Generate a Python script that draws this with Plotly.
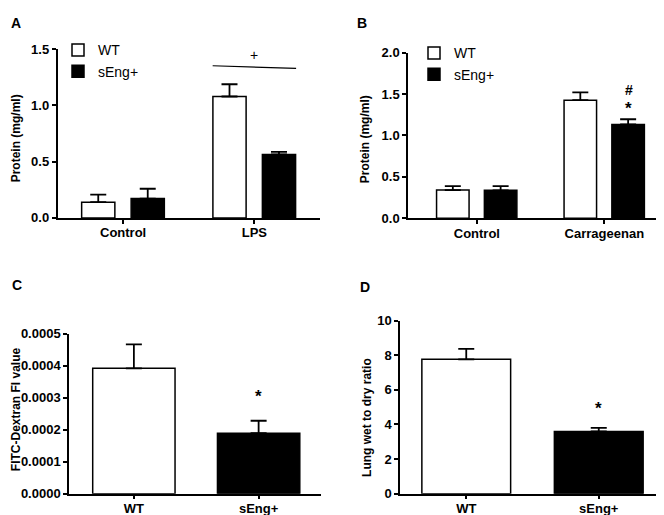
import plotly.graph_objects as go

W, H = 664, 515

# ---- data ----
a_cats = ["Control", "LPS"]
a_wt = [0.14, 1.078]
a_wt_err = [0.067, 0.109]
a_seng = [0.172, 0.563]
a_seng_err = [0.087, 0.023]

b_cats = ["Control", "Carrageenan"]
b_wt = [0.34, 1.425]
b_wt_err = [0.047, 0.094]
b_seng = [0.337, 1.132]
b_seng_err = [0.05, 0.063]

c_cats = ["WT", "sEng+"]
c_vals = [0.000392, 0.000189]
c_err = [0.000075, 0.000039]

d_cats = ["WT", "sEng+"]
d_vals = [7.76, 3.59]
d_err = [0.60, 0.21]

FONT = "Liberation Sans, Arial, sans-serif"


def px_x(p):
    return p / W


def px_y(p):
    return 1 - p / H


fig = go.Figure()

edge = dict(color="black", width=1.5)


def err(arr):
    return dict(type="data", symmetric=False, array=arr, arrayminus=[0] * len(arr),
                color="black", thickness=1.8, width=8)


# Panel A
fig.add_trace(go.Bar(x=a_cats, y=a_wt, name="WT", marker=dict(color="white", line=edge),
                     width=0.253, offset=-0.316, error_y=err(a_wt_err),
                     xaxis="x", yaxis="y", legend="legend"))
fig.add_trace(go.Bar(x=a_cats, y=a_seng, name="sEng+", marker=dict(color="black", line=edge),
                     width=0.253, offset=0.061, error_y=err(a_seng_err),
                     xaxis="x", yaxis="y", legend="legend"))
# Panel B
fig.add_trace(go.Bar(x=b_cats, y=b_wt, name="WT", marker=dict(color="white", line=edge),
                     width=0.255, offset=-0.316, error_y=err(b_wt_err),
                     xaxis="x2", yaxis="y2", legend="legend2"))
fig.add_trace(go.Bar(x=b_cats, y=b_seng, name="sEng+", marker=dict(color="black", line=edge),
                     width=0.255, offset=0.059, error_y=err(b_seng_err),
                     xaxis="x2", yaxis="y2", legend="legend2"))
# Panel C
fig.add_trace(go.Bar(x=c_cats, y=c_vals, marker=dict(color=["white", "black"], line=edge),
                     width=0.66, offset=-0.33, error_y=err(c_err),
                     xaxis="x3", yaxis="y3", showlegend=False))
# Panel D
fig.add_trace(go.Bar(x=d_cats, y=d_vals, marker=dict(color=["white", "black"], line=edge),
                     width=0.67, offset=-0.335, error_y=err(d_err),
                     xaxis="x4", yaxis="y4", showlegend=False))

tickfont = dict(family=FONT, size=13, color="black", weight="bold")


def xax(dom, rng, anchor):
    return dict(domain=dom, range=rng, anchor=anchor, showline=True, linecolor="black",
                linewidth=1.5, ticks="outside", ticklen=4, tickwidth=1.5, tickcolor="black",
                showgrid=False, zeroline=False, tickfont=tickfont, ticklabelstandoff=-2)


def yax(dom, rng, dtick, anchor, fmt=None):
    d = dict(domain=dom, range=rng, dtick=dtick, tick0=0, anchor=anchor, showline=True,
             linecolor="black", linewidth=1.5, ticks="outside", ticklen=4, tickwidth=1.5,
             tickcolor="black", showgrid=False, zeroline=False, tickfont=tickfont)
    if fmt:
        d["tickformat"] = fmt
    return d


fig.update_layout(
    width=W, height=H, margin=dict(l=0, r=0, t=0, b=0),
    paper_bgcolor="white", plot_bgcolor="white",
    font=dict(family=FONT, color="black"),
    barmode="overlay",
    xaxis=xax([px_x(49.5), px_x(312)], [-0.5, 1.5], "y"),
    yaxis=yax([px_y(209), px_y(35)], [0, 1.5], 0.5, "x", ".1f"),
    xaxis2=xax([px_x(400), px_x(655)], [-0.54, 1.46], "y2"),
    yaxis2=yax([px_y(209.3), px_y(38.7)], [0, 2.0], 0.5, "x2", ".1f"),
    xaxis3=xax([px_x(61), px_x(313)], [-0.52, 1.5], "y3"),
    yaxis3=yax([px_y(493), px_y(328.3)], [0, 0.0005], 0.0001, "x3", ".4f"),
    xaxis4=xax([px_x(392), px_x(657)], [-0.5, 1.5], "y4"),
    yaxis4=yax([px_y(493), px_y(314.7)], [0, 10], 2, "x4", "d"),
    legend=dict(x=px_x(50), y=px_y(20), xanchor="left", yanchor="top",
                font=dict(family=FONT, size=14, color="black"), bgcolor="rgba(0,0,0,0)",
                tracegroupgap=0),
    legend2=dict(x=px_x(406), y=px_y(23), xanchor="left", yanchor="top",
                 font=dict(family=FONT, size=14, color="black"), bgcolor="rgba(0,0,0,0)",
                 tracegroupgap=0),
)

ann = []
# panel letters
for txt, x, y in [("A", 8, 8), ("B", 354, 8), ("C", 8.5, 278), ("D", 357, 280)]:
    ann.append(dict(text=txt, x=px_x(x), y=px_y(y), xref="paper", yref="paper",
                    xanchor="center", yanchor="middle", showarrow=False,
                    font=dict(family=FONT, size=14, weight="bold", color="black")))
# axis titles
for txt, x, y in [("Protein (mg/ml)", 8, 127), ("Protein (mg/ml)", 357, 128),
                  ("FITC-Dextran FI value", 8, 406), ("Lung wet to dry ratio", 359, 414)]:
    ann.append(dict(text=txt, x=px_x(x), y=px_y(y), xref="paper", yref="paper",
                    xanchor="center", yanchor="middle",
                    textangle=-90, showarrow=False,
                    font=dict(family=FONT, size=12, weight="bold", color="black")))
# significance marks
ann.append(dict(text="+", x=1, y=1.45, xref="x", yref="y", showarrow=False,
                xanchor="center", yanchor="middle",
                font=dict(family=FONT, size=14, color="black")))
ann.append(dict(text="*", x=1.19, y=1.33, xref="x2", yref="y2", showarrow=False,
                xanchor="center", yanchor="middle",
                font=dict(family=FONT, size=17, weight="bold", color="black")))
ann.append(dict(text="#", x=1.19, y=1.55, xref="x2", yref="y2", showarrow=False,
                xanchor="center", yanchor="middle",
                font=dict(family=FONT, size=14, weight="bold", color="black")))
ann.append(dict(text="*", x=1, y=0.000304, xref="x3", yref="y3", showarrow=False,
                xanchor="center", yanchor="middle",
                font=dict(family=FONT, size=17, weight="bold", color="black")))
ann.append(dict(text="*", x=1, y=4.9, xref="x4", yref="y4", showarrow=False,
                xanchor="center", yanchor="middle",
                font=dict(family=FONT, size=17, weight="bold", color="black")))
fig.update_layout(annotations=ann)

fig.add_shape(type="line", x0=0.682, x1=1.318, y0=1.351, y1=1.328, xref="x", yref="y",
              line=dict(color="black", width=1.2))

fig.write_html("out.html")
